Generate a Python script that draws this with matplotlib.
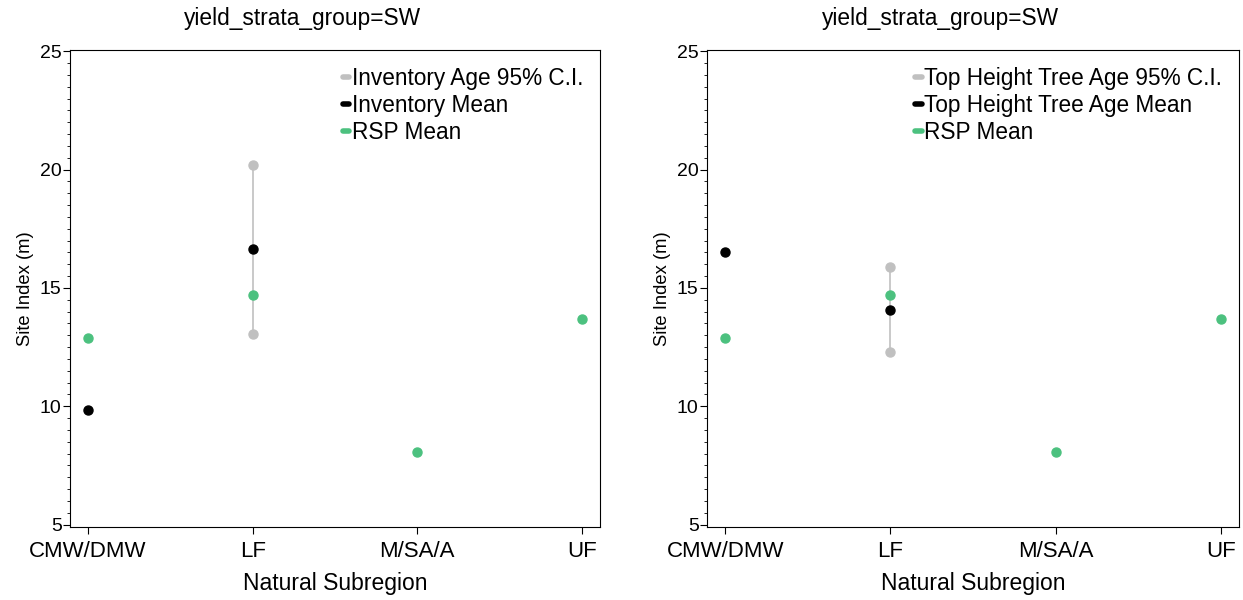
import matplotlib.pyplot as plt
from matplotlib.lines import Line2D
from matplotlib.ticker import MultipleLocator

plt.rcParams['font.family'] = ['Liberation Sans', 'DejaVu Sans']

regions = ["CMW/DMW", "LF", "M/SA/A", "UF"]
rsp_mean = [12.9, 14.7, 8.05, 13.7]

# left panel: inventory age
inv_mean = {"CMW/DMW": 9.83, "LF": 16.65}
inv_ci = {"LF": (13.05, 20.2)}

# right panel: top height tree age
top_mean = {"CMW/DMW": 16.52, "LF": 14.07}
top_ci = {"LF": (12.28, 15.9)}

GRAY = "#c0c0c0"
GREEN = "#4cc17f"

fig = plt.figure(figsize=(12.43, 6), dpi=100)
ax1 = fig.add_axes([70 / 1243, 0.1217, 530 / 1243, 0.795])
ax2 = fig.add_axes([707 / 1243, 0.1217, 532 / 1243, 0.795])


def panel(ax, means, ci, ci_label, mean_label):
    for reg, (lo, hi) in ci.items():
        x = regions.index(reg)
        ax.plot([x, x], [lo, hi], color=GRAY, lw=1.2, marker="o", ms=6.5, zorder=1)
    xs = [regions.index(r) for r in means]
    ax.plot(xs, list(means.values()), "o", color="black", ms=6.5, zorder=3)
    ax.plot(range(len(regions)), rsp_mean, "o", color=GREEN, ms=6.5, zorder=2)

    ax.set_xlim(-0.11, 3.11)
    ax.set_ylim(4.9, 25.05)
    ax.set_xticks(range(len(regions)))
    ax.set_xticklabels(regions, fontsize=16)
    ax.yaxis.set_major_locator(MultipleLocator(5))
    ax.yaxis.set_minor_locator(MultipleLocator(0.5))
    ax.tick_params(axis="y", labelsize=14, length=5, pad=1)
    ax.tick_params(axis="y", which="minor", length=2.5)
    ax.tick_params(axis="x", length=5, pad=5)
    ax.set_xlabel("Natural Subregion", fontsize=16.5, labelpad=7)
    ax.set_ylabel("Site Index (m)", fontsize=13.2, labelpad=4)
    ax.set_title("yield_strata_group=SW", fontsize=16.4, pad=18, x=0.438)
    for s in ax.spines.values():
        s.set_linewidth(0.8)

    handles = [Line2D([0], [0], color=c, lw=4, solid_capstyle="round")
               for c in (GRAY, "black", GREEN)]
    ax.legend(handles, [ci_label, mean_label, "RSP Mean"], loc="upper right",
              frameon=False, fontsize=16.3, handlelength=0.3, handletextpad=0.1,
              labelspacing=0.17, borderaxespad=0.45, borderpad=0.3)


panel(ax1, inv_mean, inv_ci, "Inventory Age 95% C.I.", "Inventory Mean")
panel(ax2, top_mean, top_ci, "Top Height Tree Age 95% C.I.", "Top Height Tree Age Mean")

fig.savefig("out.png", dpi=100)
